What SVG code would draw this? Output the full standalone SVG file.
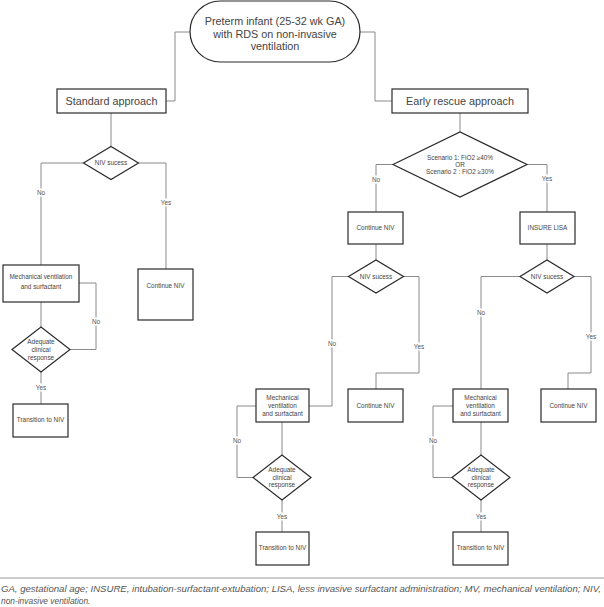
<svg xmlns="http://www.w3.org/2000/svg" width="604" height="607" viewBox="0 0 604 607">
<style>
.n{fill:#fff;stroke:#2a2a2a;stroke-width:1.2}
.c{fill:none;stroke:#8a8a8a;stroke-width:1}
.t{font-family:"Liberation Sans",Arial,sans-serif;fill:#444;text-anchor:middle}
.big{font-size:10.8px}
.s{font-size:6.4px}
.lb{font-family:"Liberation Sans",Arial,sans-serif;font-size:6.4px;fill:#555;text-anchor:middle;stroke:#fff;stroke-width:3;paint-order:stroke}
.f{font-family:"Liberation Sans",Arial,sans-serif;font-size:8.4px;font-style:italic;fill:#555}
</style>
<rect width="604" height="607" fill="#fff"/>
<g id="connectors">
<polyline class="c" points="190,32 175,32 175,101 166,101"/>
<polyline class="c" points="360,32 375,32 375,101 392,101"/>
<polyline class="c" points="111,113 111,146.5"/>
<polyline class="c" points="83.5,163 41,163 41,265"/>
<polyline class="c" points="138.5,163 166,163 166,269"/>
<polyline class="c" points="41,302 41,327"/>
<polyline class="c" points="79,283 96,283 96,349.5 70,349.5"/>
<polyline class="c" points="41,372 41,404"/>
<polyline class="c" points="460,113 460,132"/>
<polyline class="c" points="393,164.5 376,164.5 376,212"/>
<polyline class="c" points="527,164.5 547,164.5 547,212"/>
<polyline class="c" points="376,244 376,260"/>
<polyline class="c" points="348.5,276.5 332,276.5 332,406 309,406"/>
<polyline class="c" points="403.5,276.5 419,276.5 419,373 376,373 376,389"/>
<polyline class="c" points="256,406 237,406 237,477.5 253,477.5"/>
<polyline class="c" points="282,422 282,455"/>
<polyline class="c" points="282,500 282,532"/>
<polyline class="c" points="547,244 547,260"/>
<polyline class="c" points="520,276.5 481,276.5 481,389"/>
<polyline class="c" points="574,276.5 591,276.5 591,373 568,373 568,389"/>
<polyline class="c" points="453,406 433,406 433,477.5 452,477.5"/>
<polyline class="c" points="481,422 481,455"/>
<polyline class="c" points="481,500 481,532"/>
<text class="lb" x="41" y="195">No</text>
<text class="lb" x="166" y="205">Yes</text>
<text class="lb" x="96" y="324">No</text>
<text class="lb" x="41" y="390">Yes</text>
<text class="lb" x="376" y="182">No</text>
<text class="lb" x="547" y="181">Yes</text>
<text class="lb" x="332" y="346">No</text>
<text class="lb" x="419" y="349">Yes</text>
<text class="lb" x="237" y="443">No</text>
<text class="lb" x="282" y="519">Yes</text>
<text class="lb" x="481" y="315">No</text>
<text class="lb" x="591" y="339">Yes</text>
<text class="lb" x="433" y="443">No</text>
<text class="lb" x="481" y="519">Yes</text>
</g>
<g id="start">
<rect class="n" x="190" y="1" width="170" height="61" rx="30.5"/>
<text class="t big" x="275" y="25">Preterm infant (25-32 wk GA)</text>
<text class="t big" x="275" y="37.5">with RDS on non-invasive</text>
<text class="t big" x="275" y="50">ventilation</text>
</g>
<g id="standard">
<rect class="n" x="57" y="89" width="109" height="24"/>
<text class="t big" x="111.5" y="105">Standard approach</text>
</g>
<g id="early">
<rect class="n" x="392" y="89" width="136" height="24"/>
<text class="t big" x="460" y="105">Early rescue approach</text>
</g>
<g id="d1">
<polygon class="n" points="83.5,163 111,146.5 138.5,163 111,179.5"/>
<text class="t s" x="111" y="165.3">NIV sucess</text>
</g>
<g id="mechL">
<rect class="n" x="3" y="265" width="76" height="37"/>
<text class="t s" x="41" y="279.3">Mechanical ventilation</text>
<text class="t s" x="41" y="289.3">and surfactant</text>
</g>
<g id="contL">
<rect class="n" x="138" y="269" width="55" height="51"/>
<text class="t s" x="165.5" y="288.3">Continue NIV</text>
</g>
<g id="d2">
<polygon class="n" points="12,349.5 41,327 70,349.5 41,372"/>
<text class="t s" x="41" y="344.3">Adequate</text>
<text class="t s" x="41" y="352">clinical</text>
<text class="t s" x="41" y="359.5">response</text>
</g>
<g id="transL">
<rect class="n" x="13" y="404" width="55" height="33"/>
<text class="t s" x="40.5" y="422.3">Transition to NIV</text>
</g>
<g id="d3">
<polygon class="n" points="393,164.5 460,132 527,164.5 460,197"/>
<text class="t s" x="460" y="160.3">Scenario 1: FiO2 ≥40%</text>
<text class="t s" x="460" y="167.3">OR</text>
<text class="t s" x="460" y="174.3">Scenario 2 : FiO2 ≥30%</text>
</g>
<g id="contM">
<rect class="n" x="348" y="212" width="55" height="32"/>
<text class="t s" x="375.5" y="230.3">Continue NIV</text>
</g>
<g id="insure">
<rect class="n" x="520" y="212" width="55" height="32"/>
<text class="t s" x="547.5" y="230.3">INSURE LISA</text>
</g>
<g id="d4">
<polygon class="n" points="348.5,276.5 376,260 403.5,276.5 376,293"/>
<text class="t s" x="376" y="278.8">NIV sucess</text>
</g>
<g id="d6">
<polygon class="n" points="520,276.5 547,260 574,276.5 547,293"/>
<text class="t s" x="547" y="278.8">NIV sucess</text>
</g>
<g id="mechM">
<rect class="n" x="256" y="389" width="53" height="33"/>
<text class="t s" x="282.5" y="400.3">Mechanical</text>
<text class="t s" x="282.5" y="408.3">ventilation</text>
<text class="t s" x="282.5" y="416">and surfactant</text>
</g>
<g id="contM2">
<rect class="n" x="348" y="389" width="55" height="33"/>
<text class="t s" x="375.5" y="408.3">Continue NIV</text>
</g>
<g id="d5">
<polygon class="n" points="253,477.5 282,455 311,477.5 282,500"/>
<text class="t s" x="282" y="472.3">Adequate</text>
<text class="t s" x="282" y="479.8">clinical</text>
<text class="t s" x="282" y="487.3">response</text>
</g>
<g id="transM">
<rect class="n" x="256" y="532" width="53" height="33"/>
<text class="t s" x="282.5" y="550.3">Transition to NIV</text>
</g>
<g id="mechR">
<rect class="n" x="453" y="389" width="55" height="33"/>
<text class="t s" x="480.5" y="400.3">Mechanical</text>
<text class="t s" x="480.5" y="408.3">ventilation</text>
<text class="t s" x="480.5" y="416">and surfactant</text>
</g>
<g id="contR">
<rect class="n" x="541" y="389" width="55" height="33"/>
<text class="t s" x="568.5" y="408.3">Continue NIV</text>
</g>
<g id="d7">
<polygon class="n" points="452,477.5 481,455 510,477.5 481,500"/>
<text class="t s" x="481" y="472.3">Adequate</text>
<text class="t s" x="481" y="479.8">clinical</text>
<text class="t s" x="481" y="487.3">response</text>
</g>
<g id="transR">
<rect class="n" x="453" y="532" width="55" height="33"/>
<text class="t s" x="480.5" y="550.3">Transition to NIV</text>
</g>
<g id="footer">
<line x1="0" y1="578" x2="604" y2="578" stroke="#999" stroke-width="1"/>
<text class="f" x="1" y="592" textLength="600" lengthAdjust="spacingAndGlyphs">GA, gestational age; INSURE, intubation-surfactant-extubation; LISA, less invasive surfactant administration; MV, mechanical ventilation; NIV,</text>
<text class="f" x="1" y="604">non-invasive ventilation.</text>
</g>
</svg>
